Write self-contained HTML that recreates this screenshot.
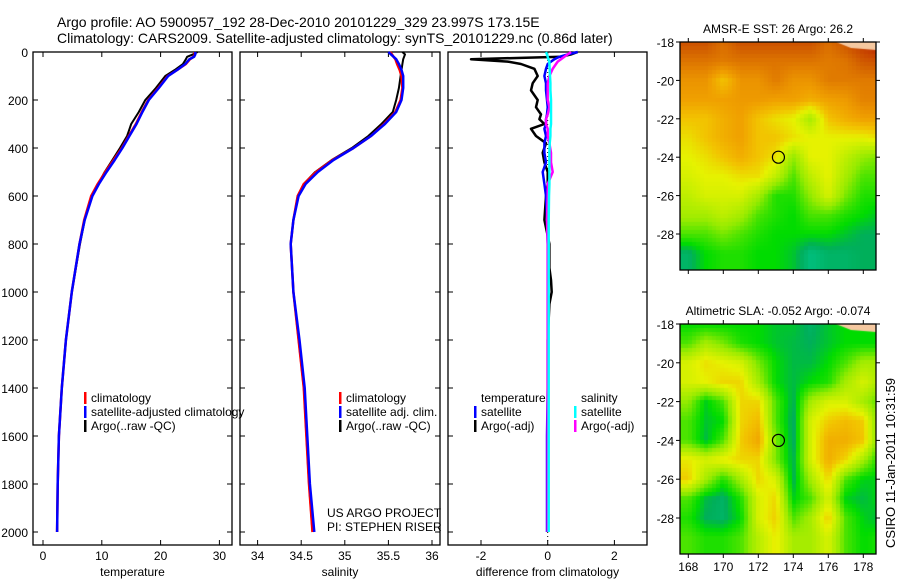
<!DOCTYPE html>
<html><head><meta charset="utf-8">
<style>
body{margin:0;background:#fff;}
#wrap{position:relative;width:900px;height:580px;overflow:hidden;font-family:"Liberation Sans",sans-serif;}
svg text{font-family:"Liberation Sans",sans-serif;}
canvas{position:absolute;}
</style></head>
<body>
<div id="wrap">
<canvas id="map1" width="196" height="228" style="left:680px;top:42px"></canvas>
<canvas id="map2" width="196" height="230" style="left:680px;top:324px"></canvas>
<svg id="svg" width="900" height="580" style="position:absolute;left:0;top:0"></svg>
</div>
<script>
// ---------- data ----------
const depths=[0,10,20,30,50,75,100,150,200,250,300,350,400,450,500,550,600,700,800,1000,1200,1400,1600,1800,2000];
const tempClim=[25.8,25.8,25.6,25.0,24.3,22.8,21.2,19.6,17.9,16.8,15.8,14.6,13.4,12.0,10.6,9.3,8.2,7.0,6.2,4.9,3.9,3.2,2.7,2.5,2.4];
const tempSat=[25.9,25.9,25.7,24.9,24.2,22.8,21.3,19.7,18.0,16.9,15.9,14.7,13.5,12.2,10.8,9.5,8.4,7.1,6.2,4.9,3.9,3.2,2.7,2.5,2.4];
const tempArgo=[26.3,25.5,24.5,24.3,23.8,22.4,20.8,19.2,17.4,16.3,15.0,14.3,13.1,11.8,10.5,9.4,8.3,7.1,6.3,4.9,3.9,3.2,2.7,2.5,2.4];
const salClim=[35.52,35.54,35.56,35.58,35.60,35.63,35.65,35.66,35.64,35.58,35.45,35.30,35.10,34.86,34.67,34.53,34.46,34.41,34.38,34.41,34.47,34.53,34.56,34.59,34.63];
const salSat=[35.50,35.53,35.56,35.59,35.62,35.65,35.67,35.67,35.65,35.59,35.46,35.30,35.10,34.87,34.69,34.55,34.47,34.41,34.38,34.41,34.48,34.54,34.57,34.60,34.65];
const salArgo=[35.66,35.69,35.68,35.67,35.66,35.65,35.64,35.62,35.59,35.55,35.42,35.27,35.08,34.85,34.66,34.53,34.46,34.41,34.38,34.41,34.47,34.53,34.56,34.59,34.63];
const diffDepths=[0,10,20,30,40,50,70,100,130,160,200,230,260,280,300,320,350,380,420,460,500,550,600,700,800,900,950,1000,1050,1200,1400,1600,1800,2000];
const dTArgo=[0.9,0.7,0.4,-2.3,-1.2,-0.8,-0.4,-0.3,-0.45,-0.5,-0.3,-0.35,-0.2,-0.25,-0.1,-0.5,-0.35,-0.05,-0.15,-0.1,0.0,0.0,-0.05,-0.1,0.05,0.05,0.1,0.12,0.05,0,0,0,0,0];
const dSArgo=[0.7,0.6,0.5,0.4,0.3,0.25,0.15,0.05,0,0,0,0.05,0,-0.05,-0.05,0,0,0.05,0.1,0.1,0.15,0,0,-0.02,0,0,0,0,0,0,0,0,0,0];
const dTSat=[0.9,0.6,0.35,0.2,0.1,0,-0.05,-0.1,-0.05,-0.05,-0.02,0,-0.02,-0.05,-0.05,-0.1,-0.05,-0.1,-0.1,-0.05,-0.15,-0.1,-0.05,-0.02,0,0,0,0,0,0,0,-0.02,-0.02,-0.02];
const dSSat=[-0.05,-0.02,0,0.02,0.05,0.05,0.06,0.07,0.08,0.08,0.1,0.1,0.1,0.1,0.1,0.08,0.08,0.06,0.05,0.05,0.05,0.05,0.04,0.03,0.03,0.03,0.03,0.03,0.03,0.03,0.03,0.03,0.03,0.03];
const depthTicks=[0,200,400,600,800,1000,1200,1400,1600,1800,2000];
const tempTicks=[0,10,20,30];
const salTicks=[34,34.5,35,35.5,36];
const salTickLabels=["34","34.5","35","35.5","36"];
const diffTicks=[-2,0,2];
const latTicks=[-18,-20,-22,-24,-26,-28];
const lonTicks=[168,170,172,174,176,178];
const sstGrid=[
[5.2,5.2,4.8,5.2,5.2,5.2,5.2,5.2,4.8,5.2,5.6,6],
[4.7,4.7,4.6,4.7,4.7,4.7,4.7,4.7,4.6,4.7,5.1,5.2],
[4.2,4.2,3.5,4.2,4.2,4.6,4.2,4.2,4.6,4.6,4.6,4.6],
[4,4,4,4.1,4.1,4,4,3.8,4,4.1,4.5,4.5],
[3.5,3.5,3.8,4,3.5,3.2,3,2.2,3.5,3.8,4,4],
[3.2,3.5,3.8,4,3.5,3.5,3.2,3,3,3,3,3.2],
[3,3.2,3.5,3.8,3.5,3.2,2,3,3,2.5,2,1.8],
[2.8,3,3,3.2,3.2,2.5,1.5,2.5,3,2.2,1.5,1.5],
[2.5,2.8,2.8,2.8,2.2,1.2,1.2,2,2.8,1.8,1.2,1.2],
[2.2,2.2,2.5,2.2,1.5,1.2,1,1.5,1.5,1.2,1,0.8],
[1.5,1.5,1.8,1.5,1.2,1,1,1,1,0.8,0.6,0.6],
[0.5,1,1.2,1.2,1,1,0.8,0.3,0.5,0.5,0.6,0.6]];
const slaGrid=[
[1,1,1,1,1,0.8,0.8,0.5,0.8,1,1,1],
[1.5,2.2,1.8,1.2,1,0.8,0.7,0.6,0.8,1,1,1],
[2.8,3.2,3,2.8,1.8,1,0.7,0.7,1,1.5,2.2,2.2],
[2.8,3,3.3,3.3,2.2,1,0.7,1,1.2,2.2,2.8,2.2],
[2,0.9,1.5,3.3,3.3,1.5,0.6,2.2,2.8,2.8,2.2,1.5],
[1.5,0.8,1,3.3,3.6,1.5,0.5,2.8,3.4,3.6,3.4,1.5],
[1.5,0.7,1.5,3.4,3.9,1.8,0.5,2.8,3.8,3.8,3.5,1.5],
[3.1,2.8,3.1,3.3,3.3,1.8,0.6,2.8,3.8,3.3,2.2,1],
[3.4,2.2,1.2,2.2,3.3,2.8,0.6,2.2,3.3,1.5,0.9,0.9],
[1.5,0.7,0.5,1.2,2.8,3.3,0.9,1.5,2.8,0.9,0.7,1],
[1.2,0.6,0.5,1,2.8,3.4,1.5,2.2,3.4,1.5,0.9,0.7],
[1.5,1.2,1.2,1.5,2.4,3.1,2.2,2.2,2.8,1.5,1,1.2]];

// ---------- scales ----------
const yD=d=>52+d*0.24;
const xT=v=>43+v*5.88;
const xS=v=>257.6+(v-34)*87.2;
const xDf=v=>547.7+v*33.35;
const NS="http://www.w3.org/2000/svg";
const svg=document.getElementById('svg');
function el(tag,attrs,parent){const e=document.createElementNS(NS,tag);for(const k in attrs)e.setAttribute(k,attrs[k]);(parent||svg).appendChild(e);return e;}
function txt(x,y,s,anchor,size,name,parent){const t=el('text',{x:x,y:y,'font-size':size||12,'text-anchor':anchor||'start',fill:'#000'},parent);t.textContent=s;


return t;}

txt(57,27,"Argo profile: AO 5900957_192 28-Dec-2010 20101229_329 23.997S 173.15E","start",14,"title-line-1");
txt(57,43,"Climatology: CARS2009. Satellite-adjusted climatology: synTS_20101229.nc (0.86d later)","start",14,"title-line-2");

const panels=[{x0:33,x1:232,name:'temperature-panel',xs:xT,ticks:tempTicks,labels:tempTicks.map(String),title:'temperature'},
{x0:240,x1:440,name:'salinity-panel',xs:xS,ticks:salTicks,labels:salTickLabels,title:'salinity'},
{x0:448,x1:647,name:'difference-panel',xs:xDf,ticks:diffTicks,labels:diffTicks.map(String),title:'difference from climatology'}];
panels.forEach((p,i)=>{
  const g=el('g',{});
  
  
  const r=el('rect',{x:p.x0,y:52,width:p.x1-p.x0,height:493,fill:'none',stroke:'#000','stroke-width':1.3},g);
  
  
  depthTicks.forEach(d=>{
    el('line',{x1:p.x0,x2:p.x0+5,y1:yD(d),y2:yD(d),stroke:'#000'},g);
    el('line',{x1:p.x1-5,x2:p.x1,y1:yD(d),y2:yD(d),stroke:'#000'},g);
    if(i==0) txt(28,yD(d)+5,String(d),'end',12,'depth-tick-label',g);
  });
  p.ticks.forEach((v,j)=>{
    const x=p.xs(v);
    el('line',{x1:x,x2:x,y1:545,y2:540,stroke:'#000'},g);
    el('line',{x1:x,x2:x,y1:52,y2:57,stroke:'#000'},g);
    txt(x,560,p.labels[j],'middle',12,'x-tick-label',g);
  });
  txt((p.x0+p.x1)/2,576,p.title,'middle',12,'x-axis-title',g);
});
el('line',{x1:xDf(0),x2:xDf(0),y1:52,y2:545,stroke:'#000','stroke-dasharray':'1,3'});

function series(dep,vals,xs,color,name,w){
  const pts=[];dep.forEach((d,i)=>{if(vals[i]!=null)pts.push(xs(vals[i]).toFixed(1)+','+yD(d).toFixed(1));});
  const pl=el('polyline',{points:pts.join(' '),fill:'none',stroke:color,'stroke-width':w||2.5,'stroke-linejoin':'round'});
  
  
}
series(depths,tempArgo,xT,'#000','temp-argo-line',2);
series(depths,tempClim,xT,'#f00','temp-climatology-line');
series(depths,tempSat,xT,'#00f','temp-satellite-line');
series(depths,salArgo,xS,'#000','sal-argo-line',2);
series(depths,salClim,xS,'#f00','sal-climatology-line');
series(depths,salSat,xS,'#00f','sal-satellite-line');
series(diffDepths,dTArgo,xDf,'#000','temp-argo-diff-line',2.5);
series(diffDepths,dTSat,xDf,'#00f','temp-satellite-diff-line');
series(diffDepths,dSArgo,xDf,'#f0f','sal-argo-diff-line');
series(diffDepths,dSSat,xDf,'#0ff','sal-satellite-diff-line');

function legend(x,y,color,label,name){
  const g=el('g',{});
  
  
  el('rect',{x:x,y:y-10,width:2.5,height:12,fill:color},g);
  txt(x+7,y,label,'start',12,'legend-label',g);
}
legend(84,402,'#f00','climatology','legend-temp-climatology');
legend(84,416,'#00f','satellite-adjusted climatology','legend-temp-satellite');
legend(84,430,'#000','Argo(..raw -QC)','legend-temp-argo');
legend(339,402,'#f00','climatology','legend-sal-climatology');
legend(339,416,'#00f','satellite adj. clim.','legend-sal-satellite');
legend(339,430,'#000','Argo(..raw -QC)','legend-sal-argo');
txt(481,402,'temperature','start',12,'legend-header-temperature');
txt(581,402,'salinity','start',12,'legend-header-salinity');
legend(474,416,'#00f','satellite','legend-diff-temp-satellite');
legend(474,430,'#000','Argo(-adj)','legend-diff-temp-argo');
legend(574,416,'#0ff','satellite','legend-diff-sal-satellite');
legend(574,430,'#f0f','Argo(-adj)','legend-diff-sal-argo');
txt(327,517,'US ARGO PROJECT','start',12,'project-label');
txt(327,531,'PI: STEPHEN RISER','start',12,'pi-label');

// ---------- maps ----------
const stops=[[0,[0,205,160]],[0.6,[0,175,90]],[1,[0,220,0]],[2,[150,235,0]],[3,[230,242,0]],[3.5,[242,195,0]],[4,[240,160,0]],[4.5,[228,130,0]],[5,[210,95,0]],[6,[180,20,0]]];
function cmap(v){for(let i=1;i<stops.length;i++){if(v<=stops[i][0]){const a=stops[i-1],b=stops[i];const t=(v-a[0])/(b[0]-a[0]);return 'rgb('+a[1].map((c,k)=>Math.round(c+(b[1][k]-c)*t)).join(',')+')';}}return 'rgb(180,20,0)';}
function drawMap(id,grid,latPx){
  const c=document.getElementById(id).getContext('2d');
  const W=c.canvas.width,H=c.canvas.height;
  for(let py=0;py<H;py+=4)for(let px=0;px<W;px+=4){
    const lon=168+(680+px+2-688.3)/17.5, lat=-18-(py+2)/latPx;
    let cx=Math.max(0,Math.min(11,lon-168)), ry=Math.max(0,Math.min(11,-18-lat));
    const c0=Math.floor(cx),r0=Math.floor(ry),c1=Math.min(11,c0+1),r1=Math.min(11,r0+1),fx=cx-c0,fy=ry-r0;
    const v=grid[r0][c0]*(1-fx)*(1-fy)+grid[r0][c1]*fx*(1-fy)+grid[r1][c0]*(1-fx)*fy+grid[r1][c1]*fx*fy;
    c.fillStyle=cmap(v);c.fillRect(px,py,4,4);
  }
  c.fillStyle='#f5c8a0';c.beginPath();c.moveTo(W-40,0);c.lineTo(W,0);c.lineTo(W,8);c.lineTo(W-25,6);c.fill();
}
drawMap('map1',sstGrid,19.2);
drawMap('map2',slaGrid,19.4);
function mapFrame(top,h,lat0y,latPx,title,name,lonLabels){
  const g=el('g',{});
  
  
  el('rect',{x:680,y:top,width:196,height:h,fill:'none',stroke:'#000','stroke-width':1.3},g);
  latTicks.forEach(l=>{const y=lat0y+(-18-l)*latPx;
    el('line',{x1:676,x2:680,y1:y,y2:y,stroke:'#000'},g);
    el('line',{x1:876,x2:880,y1:y,y2:y,stroke:'#000'},g);
    txt(674,y+5,String(l),'end',12,'lat-tick-label',g);});
  lonTicks.forEach(l=>{const x=688.3+(l-168)*17.5;
    el('line',{x1:x,x2:x,y1:top-4,y2:top,stroke:'#000'},g);
    el('line',{x1:x,x2:x,y1:top+h,y2:top+h+4,stroke:'#000'},g);
    if(lonLabels)txt(x,571,String(l),'middle',12,'lon-tick-label',g);});
  txt(778,top-9,title,'middle',12,'map-title',g);
  const c=el('circle',{cx:688.3+5.15*17.5,cy:lat0y+6*latPx,r:6,fill:'none',stroke:'#000','stroke-width':1.2},g);
  
  
}
mapFrame(42,228,42,19.2,'AMSR-E SST: 26 Argo: 26.2','sst-map-axes',false);
mapFrame(324,230,324,19.4,'Altimetric SLA: -0.052 Argo: -0.074','sla-map-axes',true);
const ts=txt(0,0,'CSIRO 11-Jan-2011 10:31:59','middle',13,'timestamp-label');
ts.setAttribute('transform','translate(895,463) rotate(-90)');
</script>
</body></html>
